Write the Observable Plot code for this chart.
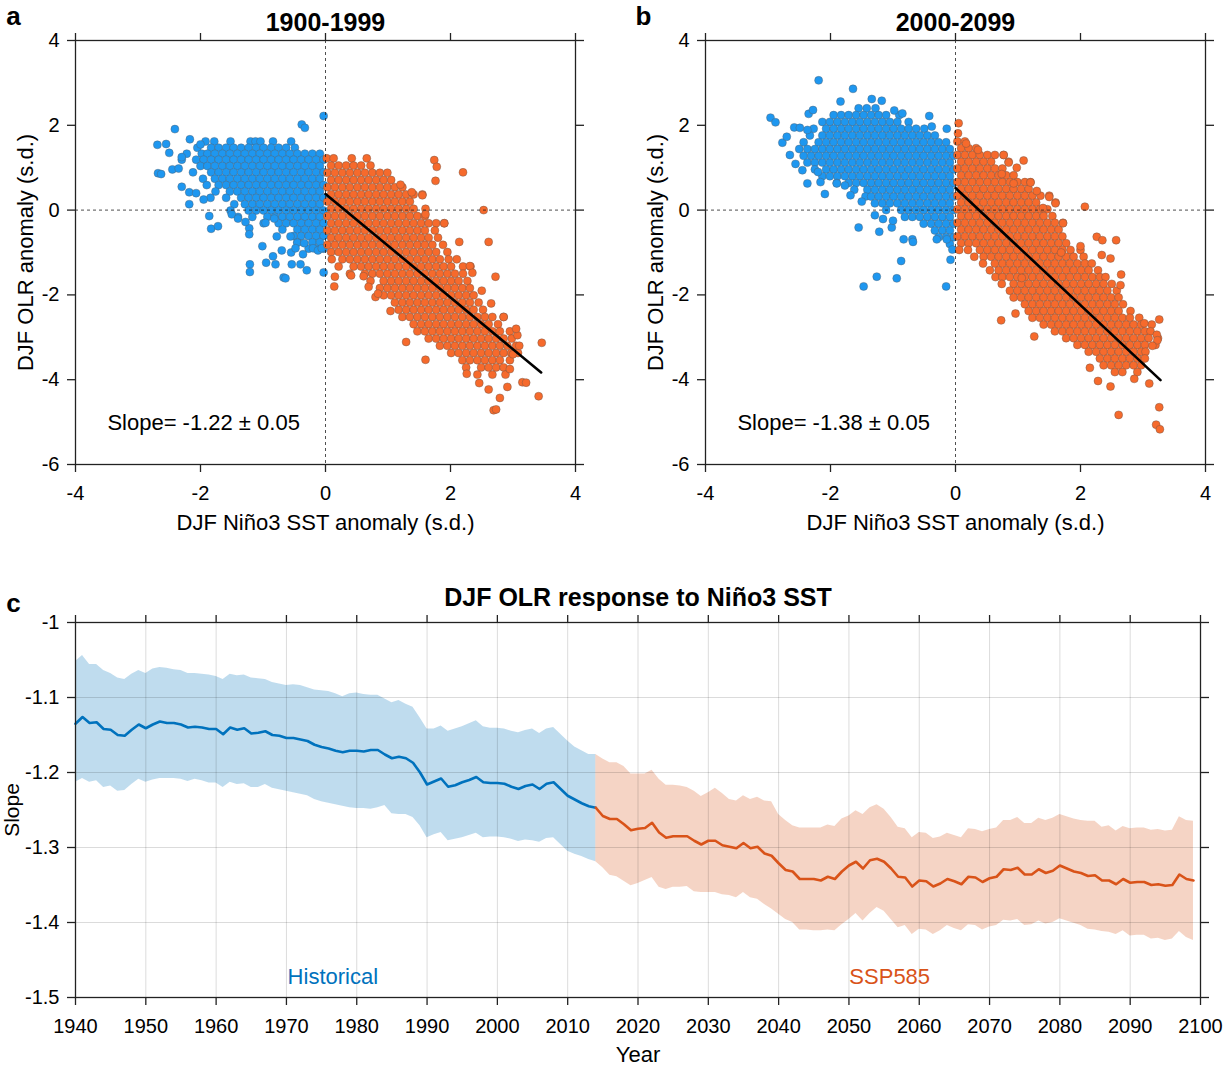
<!DOCTYPE html>
<html>
<head>
<meta charset="utf-8">
<script src="https://cdn.jsdelivr.net/npm/d3@7"></script>
<script src="https://cdn.jsdelivr.net/npm/@observablehq/plot@0.6"></script>
<style>
  html, body { margin: 0; padding: 0; background: #fff; }
  #fig { position: relative; width: 1225px; height: 1066px; overflow: hidden; background: #fff; }
  #fig > div { position: absolute; }
</style>
</head>
<body>
<div id="fig">
  <div id="pa" style="left:0;top:0"></div>
  <div id="pb" style="left:630px;top:0"></div>
  <div id="pc" style="left:0;top:570px"></div>
</div>
<script>
// ---------------- Panel a (1900-1999) : scatter rows [y, [x...]] and outliers [x, y] ----------------
const aBlueRows = [
  [1.62, [-1.92,-1.78,-1.52,-1.2,-1.12,-1.04,-0.84,-0.55]],
  [1.47, [-2.05,-1.83,-1.71,-1.59,-1.47,-1.35,-1.23,-1.11,-0.99,-0.87,-0.75,-0.63,-0.49]],
  [1.33, [-2.22,-1.98,-1.89,-1.77,-1.65,-1.53,-1.41,-1.29,-1.17,-1.05,-0.93,-0.81,-0.69,-0.57,-0.45,-0.33,-0.21,-0.09]],
  [1.19, [-2.3,-2.07,-1.95,-1.83,-1.71,-1.59,-1.47,-1.35,-1.23,-1.11,-0.99,-0.87,-0.75,-0.63,-0.51,-0.39,-0.27,-0.15,-0.03]],
  [1.04, [-2.0,-1.89,-1.77,-1.65,-1.53,-1.41,-1.29,-1.17,-1.05,-0.93,-0.81,-0.69,-0.57,-0.45,-0.33,-0.21,-0.09]],
  [0.89, [-2.12,-1.83,-1.71,-1.59,-1.47,-1.35,-1.23,-1.11,-0.99,-0.87,-0.75,-0.63,-0.51,-0.39,-0.27,-0.15,-0.03]],
  [0.74, [-1.96,-1.77,-1.65,-1.53,-1.41,-1.29,-1.17,-1.05,-0.93,-0.81,-0.69,-0.57,-0.45,-0.33,-0.21,-0.09]],
  [0.59, [-1.9,-1.71,-1.59,-1.47,-1.35,-1.23,-1.11,-0.99,-0.87,-0.75,-0.63,-0.51,-0.39,-0.27,-0.15,-0.03]],
  [0.44, [-1.76,-1.53,-1.41,-1.29,-1.17,-1.05,-0.93,-0.81,-0.69,-0.57,-0.45,-0.33,-0.21,-0.09]],
  [0.29, [-1.84,-1.59,-1.35,-1.23,-1.11,-0.99,-0.87,-0.75,-0.63,-0.51,-0.39,-0.27,-0.15,-0.03]],
  [0.14, [-1.46,-1.29,-1.17,-1.05,-0.93,-0.81,-0.69,-0.57,-0.45,-0.33,-0.21,-0.09]],
  [-0.01, [-1.52,-1.23,-1.11,-0.99,-0.87,-0.75,-0.63,-0.51,-0.39,-0.27,-0.15,-0.03]],
  [-0.16, [-1.4,-1.17,-0.93,-0.81,-0.69,-0.57,-0.45,-0.33,-0.21,-0.09]],
  [-0.31, [-0.99,-0.75,-0.63,-0.51,-0.39,-0.27,-0.15,-0.03]],
  [-0.46, [-0.69,-0.45,-0.33,-0.21,-0.09]],
  [-0.61, [-0.51,-0.39,-0.27,-0.15,-0.03]],
  [-0.76, [-0.45,-0.21,-0.09]],
  [-0.91, [-0.27,-0.15,-0.03]]
];
const aBlueOut = [
  [-0.03,2.22],[-0.38,2.02],[-0.33,1.94],[-2.41,1.91],[-2.69,1.54],[-2.55,1.56],[-2.68,0.87],[-2.63,0.85],
  [-2.17,1.67],[-2.45,0.96],[-2.35,0.98],[-2.18,0.14],[-2.18,0.42],[-2.07,0.4],[-1.86,-0.14],[-1.83,-0.44],
  [-1.72,-0.38],[-1.22,-0.43],[-1.22,-0.57],[-1.01,-0.85],[-0.84,-1.09],[-1.21,-1.28],[-1.21,-1.46],[-0.95,-1.24],
  [-0.8,-1.28],[-0.67,-1.59],[-0.64,-1.61],[-0.54,-1.28],[-0.4,-1.28],[-0.3,-1.42],[-0.36,-1.04],[-0.2,-0.9],
  [-0.12,-0.95],[-0.06,-0.9],[-0.03,-1.47],[-0.78,-0.62],[-0.56,-0.62],[-0.45,-0.77],[-0.34,-0.78],[-1.5,-0.1],
  [-1.4,-0.2],[-1.28,-0.28],[-0.96,-0.3],[-0.82,-0.2],[-2.3,1.25],[-2.5,1.35],[-2.0,1.55],[-2.3,0.55],
  [-1.95,0.25],[-0.7,-0.95],[-0.55,-1.0],[-0.48,-0.9]
];
const aOrangeRows = [
  [1.22, [0.02,0.13,0.42,0.66]],
  [1.05, [0.09,0.21,0.33,0.45,0.57,0.72]],
  [0.88, [0.03,0.15,0.27,0.39,0.51,0.63,0.75,0.87,0.99]],
  [0.71, [0.09,0.21,0.33,0.45,0.57,0.69,0.81,0.93,1.05]],
  [0.54, [0.03,0.15,0.27,0.39,0.51,0.63,0.75,0.87,0.99,1.11,1.23]],
  [0.37, [0.09,0.21,0.33,0.45,0.57,0.69,0.81,0.93,1.05,1.17,1.29,1.41,1.55]],
  [0.2, [0.03,0.15,0.27,0.39,0.51,0.63,0.75,0.87,0.99,1.11,1.23,1.35]],
  [0.03, [0.09,0.21,0.33,0.45,0.57,0.69,0.81,0.93,1.05,1.17,1.29,1.41,1.6]],
  [-0.14, [0.03,0.15,0.27,0.39,0.51,0.63,0.75,0.87,0.99,1.11,1.23,1.35,1.47,1.59]],
  [-0.31, [0.09,0.21,0.33,0.45,0.57,0.69,0.81,0.93,1.05,1.17,1.29,1.41,1.53,1.65,1.77,1.9]],
  [-0.48, [0.03,0.15,0.27,0.39,0.51,0.63,0.75,0.87,0.99,1.11,1.23,1.35,1.47,1.59,1.75]],
  [-0.65, [0.09,0.21,0.33,0.45,0.57,0.69,0.81,0.93,1.05,1.17,1.29,1.41,1.53,1.65,1.8]],
  [-0.82, [0.03,0.15,0.27,0.39,0.51,0.63,0.75,0.87,0.99,1.11,1.23,1.35,1.47,1.59,1.71,1.88]],
  [-0.99, [0.09,0.21,0.33,0.45,0.57,0.69,0.81,0.93,1.05,1.17,1.29,1.41,1.53,1.65,1.77,1.95]],
  [-1.16, [0.1,0.27,0.39,0.51,0.63,0.75,0.87,0.99,1.11,1.23,1.35,1.47,1.59,1.71,1.83,1.97,2.1]],
  [-1.33, [0.21,0.45,0.57,0.69,0.81,0.93,1.05,1.17,1.29,1.41,1.53,1.65,1.77,1.89,2.01,2.2,2.32]],
  [-1.5, [0.39,0.63,0.75,0.87,0.99,1.11,1.23,1.35,1.47,1.59,1.71,1.83,1.95,2.07,2.2]],
  [-1.67, [0.72,0.93,1.05,1.17,1.29,1.41,1.53,1.65,1.77,1.89,2.01,2.13,2.27]],
  [-1.84, [0.87,0.99,1.11,1.23,1.35,1.47,1.59,1.71,1.83,1.95,2.07,2.19,2.31]],
  [-2.01, [0.93,1.05,1.17,1.29,1.41,1.53,1.65,1.77,1.89,2.01,2.13,2.25,2.37]],
  [-2.18, [1.11,1.23,1.35,1.47,1.59,1.71,1.83,1.95,2.07,2.19,2.31,2.45]],
  [-2.35, [1.17,1.29,1.41,1.53,1.65,1.77,1.89,2.01,2.13,2.25,2.37,2.52]],
  [-2.52, [1.23,1.35,1.47,1.59,1.71,1.83,1.95,2.07,2.19,2.31,2.43,2.55,2.67,2.85]],
  [-2.69, [1.41,1.53,1.65,1.77,1.89,2.01,2.13,2.25,2.37,2.49,2.61,2.76]],
  [-2.86, [1.47,1.59,1.71,1.83,1.95,2.07,2.19,2.31,2.43,2.55,2.67,2.79,2.95]],
  [-3.03, [1.65,1.77,1.89,2.01,2.13,2.25,2.37,2.49,2.61,2.73,2.85,2.98]],
  [-3.2, [1.83,1.95,2.07,2.19,2.31,2.43,2.55,2.67,2.79,2.91,3.05]],
  [-3.37, [2.01,2.13,2.25,2.37,2.49,2.61,2.73,2.85,2.97,3.08]],
  [-3.54, [2.19,2.31,2.43,2.55,2.67,2.79,2.95]],
  [-3.71, [2.25,2.49,2.61,2.73,2.85]],
  [-3.88, [2.43,2.67,2.88]]
];
const aOrangeOut = [
  [1.74,1.18],[1.78,1.02],[1.76,0.69],[2.2,0.89],[2.53,0.0],[2.61,-0.75],[2.14,-0.75],[2.72,-1.57],
  [3.46,-3.13],[3.41,-4.39],[2.69,-4.72],[2.73,-4.7],[2.79,-4.43],[2.61,-4.23],[2.46,-4.08],[2.91,-4.17],
  [3.15,-4.06],[3.21,-4.07],[2.26,-3.86],[1.6,-3.53],[1.29,-3.11],[1.04,-2.38],[0.8,-2.05],[3.07,-2.95],
  [2.85,-2.52],[1.9,-0.31],[1.6,-0.1],[0.15,-1.57],[0.14,-1.8],[0.41,-1.54],[0.61,-1.56],[0.69,-1.81],
  [0.84,-1.97],[1.38,0.42],[1.55,0.35],[1.2,0.6],[2.31,-1.32],[2.35,-1.48],[2.5,-1.9],[2.65,-2.2],
  [3.0,-3.4],[3.1,-3.2],[2.95,-3.75],[3.05,-2.8]
];
const aFitX = [0, 3.45];
const aFitY = [0.38, -3.83];

// ---------------- Panel b (2000-2099) ----------------
const bBlueRows = [
  [2.4, [-1.55,-1.42,-1.28]],
  [2.24, [-1.95,-1.83,-1.71,-1.59,-1.47,-1.35,-1.23,-1.11,-0.9]],
  [2.08, [-2.13,-2.01,-1.89,-1.77,-1.65,-1.53,-1.41,-1.29,-1.17,-1.05,-0.93,-0.75]],
  [1.92, [-2.27,-2.07,-1.95,-1.83,-1.71,-1.59,-1.47,-1.35,-1.23,-1.11,-0.99,-0.87,-0.75,-0.63,-0.5]],
  [1.76, [-2.33,-2.13,-2.01,-1.89,-1.77,-1.65,-1.53,-1.41,-1.29,-1.17,-1.05,-0.93,-0.81,-0.69,-0.57,-0.45,-0.33]],
  [1.6, [-2.43,-2.19,-2.07,-1.95,-1.83,-1.71,-1.59,-1.47,-1.35,-1.23,-1.11,-0.99,-0.87,-0.75,-0.63,-0.51,-0.39,-0.27,-0.15]],
  [1.44, [-2.5,-2.37,-2.25,-2.13,-2.01,-1.89,-1.77,-1.65,-1.53,-1.41,-1.29,-1.17,-1.05,-0.93,-0.81,-0.69,-0.57,-0.45,-0.33,-0.21,-0.09]],
  [1.28, [-2.43,-2.31,-2.19,-2.07,-1.95,-1.83,-1.71,-1.59,-1.47,-1.35,-1.23,-1.11,-0.99,-0.87,-0.75,-0.63,-0.51,-0.39,-0.27,-0.15,-0.03]],
  [1.12, [-2.37,-2.25,-2.13,-2.01,-1.89,-1.77,-1.65,-1.53,-1.41,-1.29,-1.17,-1.05,-0.93,-0.81,-0.69,-0.57,-0.45,-0.33,-0.21,-0.09]],
  [0.96, [-2.25,-2.07,-1.95,-1.83,-1.71,-1.59,-1.47,-1.35,-1.23,-1.11,-0.99,-0.87,-0.75,-0.63,-0.51,-0.39,-0.27,-0.15,-0.03]],
  [0.8, [-2.13,-2.01,-1.89,-1.77,-1.65,-1.53,-1.41,-1.29,-1.17,-1.05,-0.93,-0.81,-0.69,-0.57,-0.45,-0.33,-0.21,-0.09]],
  [0.64, [-1.9,-1.71,-1.59,-1.47,-1.35,-1.23,-1.11,-0.99,-0.87,-0.75,-0.63,-0.51,-0.39,-0.27,-0.15,-0.03]],
  [0.48, [-1.62,-1.41,-1.29,-1.17,-1.05,-0.93,-0.81,-0.69,-0.57,-0.45,-0.33,-0.21,-0.09]],
  [0.32, [-1.44,-1.35,-1.23,-1.11,-0.99,-0.87,-0.75,-0.63,-0.51,-0.39,-0.27,-0.15,-0.03]],
  [0.16, [-1.29,-1.17,-1.05,-0.93,-0.81,-0.69,-0.57,-0.45,-0.33,-0.21,-0.09]],
  [0.0, [-1.11,-0.87,-0.75,-0.63,-0.51,-0.39,-0.27,-0.15,-0.03]],
  [-0.16, [-0.81,-0.69,-0.57,-0.45,-0.33,-0.21,-0.09]],
  [-0.32, [-0.51,-0.39,-0.27,-0.15,-0.03]],
  [-0.48, [-0.33,-0.21,-0.09]],
  [-0.64, [-0.27,-0.15,-0.03]],
  [-0.8, [-0.09]]
];
const bBlueOut = [
  [-2.19,3.06],[-1.64,2.86],[-1.84,2.56],[-1.34,2.62],[-1.18,2.58],[-2.96,2.18],[-2.88,2.07],[-2.77,1.59],
  [-2.7,1.73],[-2.56,1.09],[-2.45,0.94],[-2.37,0.63],[-2.16,0.66],[-2.09,0.38],[-1.9,0.63],[-1.77,0.58],
  [-1.68,0.35],[-1.55,-0.41],[-1.29,-0.12],[-1.22,-0.51],[-1.16,-0.21],[-1.02,-0.41],[-0.83,-0.69],[-0.69,-0.69],
  [-0.68,-0.75],[-0.87,-1.2],[-1.26,-1.57],[-0.94,-1.61],[-1.47,-1.8],[-0.15,-1.8],[-0.08,-1.17],[-0.05,-0.93],
  [-0.3,-0.69],[-0.14,-0.69],[-0.42,2.22],[-0.38,1.97],[-0.14,1.92],[-2.58,1.95],[-2.49,1.94],[-2.37,1.89],
  [-2.35,2.27],[-2.28,2.36],[-0.98,2.35],[-0.85,2.28],[-2.65,1.3],[-2.2,0.9],[-1.5,0.2],[-1.0,-0.25]
];
const bOrangeRows = [
  [1.62, [0.03,0.15]],
  [1.46, [0.09,0.21,0.33]],
  [1.3, [0.03,0.15,0.27,0.39,0.51,0.63,0.77]],
  [1.14, [0.09,0.21,0.33,0.45,0.57,0.85]],
  [0.98, [0.03,0.15,0.27,0.39,0.51,0.63,0.75]],
  [0.82, [0.09,0.21,0.33,0.45,0.57,0.69,0.81,0.93]],
  [0.66, [0.03,0.15,0.27,0.39,0.51,0.63,0.75,0.87,0.99,1.11,1.2]],
  [0.5, [0.09,0.21,0.33,0.45,0.57,0.69,0.81,0.93,1.05,1.17]],
  [0.34, [0.03,0.15,0.27,0.39,0.51,0.63,0.75,0.87,0.99,1.11,1.23,1.36,1.5]],
  [0.18, [0.09,0.21,0.33,0.45,0.57,0.69,0.81,0.93,1.05,1.17,1.29,1.6]],
  [0.02, [0.03,0.15,0.27,0.39,0.51,0.63,0.75,0.87,0.99,1.11,1.23,1.35,1.47]],
  [-0.14, [0.09,0.21,0.33,0.45,0.57,0.69,0.81,0.93,1.05,1.17,1.29,1.41,1.55]],
  [-0.3, [0.03,0.15,0.27,0.39,0.51,0.63,0.75,0.87,0.99,1.11,1.23,1.35,1.47,1.59,1.72]],
  [-0.46, [0.09,0.21,0.33,0.45,0.57,0.69,0.81,0.93,1.05,1.17,1.29,1.41,1.53,1.65]],
  [-0.62, [0.03,0.15,0.27,0.39,0.51,0.63,0.75,0.87,0.99,1.11,1.23,1.35,1.47,1.59,1.71]],
  [-0.78, [0.09,0.21,0.33,0.45,0.57,0.69,0.81,0.93,1.05,1.17,1.29,1.41,1.53,1.65,1.77]],
  [-0.94, [0.06,0.2,0.39,0.51,0.63,0.75,0.87,0.99,1.11,1.23,1.35,1.47,1.59,1.71,1.84,2.0]],
  [-1.1, [0.3,0.45,0.57,0.69,0.81,0.93,1.05,1.17,1.29,1.41,1.53,1.65,1.77,1.89,2.05]],
  [-1.26, [0.44,0.63,0.75,0.87,0.99,1.11,1.23,1.35,1.47,1.59,1.71,1.83,1.95,2.07,2.18]],
  [-1.42, [0.55,0.69,0.81,0.93,1.05,1.17,1.29,1.41,1.53,1.65,1.77,1.89,2.01,2.13,2.28]],
  [-1.58, [0.64,0.75,0.87,0.99,1.11,1.23,1.35,1.47,1.59,1.71,1.83,1.95,2.07,2.19,2.31,2.4]],
  [-1.74, [0.74,0.93,1.05,1.17,1.29,1.41,1.53,1.65,1.77,1.89,2.01,2.13,2.25,2.37,2.5]],
  [-1.9, [0.87,0.99,1.11,1.23,1.35,1.47,1.59,1.71,1.83,1.95,2.07,2.19,2.31,2.43,2.58]],
  [-2.06, [0.93,1.05,1.17,1.29,1.41,1.53,1.65,1.77,1.89,2.01,2.13,2.25,2.37,2.49,2.61]],
  [-2.22, [1.11,1.23,1.35,1.47,1.59,1.71,1.83,1.95,2.07,2.19,2.31,2.43,2.55,2.68]],
  [-2.38, [1.17,1.29,1.41,1.53,1.65,1.77,1.89,2.01,2.13,2.25,2.37,2.49,2.61,2.8]],
  [-2.54, [1.23,1.35,1.47,1.59,1.71,1.83,1.95,2.07,2.19,2.31,2.43,2.55,2.67,2.79,2.94]],
  [-2.7, [1.41,1.53,1.65,1.77,1.89,2.01,2.13,2.25,2.37,2.49,2.61,2.73,2.85,2.97,3.14]],
  [-2.86, [1.59,1.71,1.83,1.95,2.07,2.19,2.31,2.43,2.55,2.67,2.79,2.91,3.03,3.12]],
  [-3.02, [1.77,1.89,2.01,2.13,2.25,2.37,2.49,2.61,2.73,2.85,2.97,3.09,3.24]],
  [-3.18, [1.95,2.07,2.19,2.31,2.43,2.55,2.67,2.79,2.91,3.03,3.2]],
  [-3.34, [2.13,2.25,2.37,2.49,2.61,2.73,2.85,2.97,3.04]],
  [-3.5, [2.31,2.43,2.55,2.67,2.79,2.91,3.03]],
  [-3.66, [2.37,2.49,2.61,2.73,2.85,2.97]],
  [-3.82, [2.55,2.67,2.91]]
];
const bOrangeOut = [
  [0.05,2.05],[0.04,1.81],[0.17,1.57],[0.36,1.42],[0.77,1.3],[0.85,1.12],[1.09,1.17],[0.74,0.85],
  [0.93,0.63],[1.2,0.65],[1.5,0.31],[1.6,0.16],[2.07,0.08],[1.72,-0.31],[1.69,-1.0],[2.26,-0.63],
  [2.35,-0.71],[2.57,-0.71],[2.34,-1.06],[2.48,-1.14],[2.65,-1.52],[2.64,-1.77],[0.73,-2.6],[0.96,-2.44],
  [1.26,-2.98],[3.26,-2.58],[3.02,-2.67],[3.22,-2.94],[3.23,-3.07],[3.15,-3.2],[2.15,-3.72],[2.28,-4.03],
  [2.48,-4.16],[2.86,-3.98],[3.1,-4.09],[2.61,-4.83],[3.26,-4.65],[3.21,-5.06],[3.27,-5.17],[1.3,0.45],
  [1.4,0.05],[2.0,-0.85],[0.98,1.0],[1.06,-1.6]
];
const bFitX = [0, 3.28];
const bFitY = [0.52, -4.01];

const scatterXTicks = [-4, -2, 0, 2, 4];
const scatterYTicks = [-6, -4, -2, 0, 2, 4];

// ---------------- Panel c : slope time series ----------------
const histStart = 1940;
const histMean = [
  -1.135,-1.126,-1.134,-1.133,-1.142,-1.143,-1.150,-1.151,-1.143,-1.136,
  -1.141,-1.136,-1.132,-1.134,-1.134,-1.136,-1.140,-1.139,-1.140,-1.142,
  -1.142,-1.149,-1.140,-1.143,-1.141,-1.148,-1.147,-1.145,-1.150,-1.151,
  -1.154,-1.154,-1.156,-1.158,-1.163,-1.166,-1.168,-1.171,-1.173,-1.171,
  -1.171,-1.172,-1.170,-1.170,-1.176,-1.181,-1.179,-1.181,-1.187,-1.200,
  -1.216,-1.212,-1.208,-1.219,-1.217,-1.213,-1.210,-1.206,-1.213,-1.214,
  -1.214,-1.215,-1.219,-1.222,-1.218,-1.216,-1.222,-1.215,-1.213,-1.222,
  -1.231,-1.236,-1.241,-1.245,-1.247
];
const histUpper = [
  -1.052,-1.044,-1.056,-1.056,-1.064,-1.068,-1.074,-1.076,-1.069,-1.064,
  -1.068,-1.062,-1.060,-1.061,-1.063,-1.064,-1.068,-1.068,-1.069,-1.070,
  -1.072,-1.076,-1.069,-1.071,-1.070,-1.074,-1.075,-1.076,-1.080,-1.082,
  -1.084,-1.083,-1.084,-1.087,-1.090,-1.091,-1.092,-1.095,-1.099,-1.095,
  -1.094,-1.096,-1.097,-1.097,-1.102,-1.107,-1.104,-1.109,-1.113,-1.127,
  -1.142,-1.142,-1.138,-1.145,-1.142,-1.139,-1.135,-1.131,-1.139,-1.141,
  -1.141,-1.142,-1.145,-1.147,-1.144,-1.142,-1.148,-1.142,-1.140,-1.149,
  -1.158,-1.166,-1.171,-1.176,-1.176
];
const histLower = [
  -1.213,-1.208,-1.213,-1.211,-1.220,-1.218,-1.225,-1.224,-1.216,-1.209,
  -1.213,-1.210,-1.208,-1.208,-1.208,-1.209,-1.212,-1.209,-1.211,-1.214,
  -1.214,-1.220,-1.213,-1.216,-1.215,-1.220,-1.220,-1.216,-1.221,-1.223,
  -1.225,-1.227,-1.229,-1.231,-1.236,-1.239,-1.241,-1.243,-1.245,-1.247,
  -1.248,-1.248,-1.249,-1.247,-1.244,-1.255,-1.256,-1.256,-1.260,-1.271,
  -1.287,-1.283,-1.280,-1.291,-1.289,-1.287,-1.284,-1.281,-1.287,-1.286,
  -1.286,-1.287,-1.289,-1.292,-1.290,-1.291,-1.293,-1.288,-1.287,-1.296,
  -1.305,-1.309,-1.312,-1.316,-1.319
];
const sspStart = 2014;
const sspMean = [
  -1.247,-1.258,-1.262,-1.262,-1.269,-1.277,
  -1.275,-1.274,-1.267,-1.280,-1.287,-1.285,-1.285,-1.285,-1.291,-1.296,
  -1.291,-1.291,-1.297,-1.299,-1.301,-1.294,-1.301,-1.299,-1.308,-1.311,
  -1.321,-1.330,-1.332,-1.342,-1.342,-1.342,-1.344,-1.339,-1.342,-1.332,
  -1.324,-1.319,-1.328,-1.317,-1.315,-1.319,-1.328,-1.339,-1.340,-1.352,
  -1.344,-1.345,-1.352,-1.348,-1.342,-1.345,-1.349,-1.339,-1.340,-1.346,
  -1.341,-1.339,-1.329,-1.330,-1.327,-1.336,-1.336,-1.329,-1.334,-1.331,
  -1.324,-1.328,-1.332,-1.334,-1.338,-1.337,-1.344,-1.344,-1.349,-1.342,
  -1.347,-1.346,-1.346,-1.350,-1.349,-1.351,-1.350,-1.336,-1.342,-1.344
];
const sspUpper = [
  -1.176,-1.182,-1.187,-1.187,-1.192,-1.202,
  -1.202,-1.202,-1.197,-1.209,-1.217,-1.217,-1.218,-1.220,-1.225,-1.232,
  -1.227,-1.221,-1.228,-1.236,-1.238,-1.231,-1.236,-1.233,-1.238,-1.239,
  -1.256,-1.264,-1.271,-1.274,-1.274,-1.274,-1.274,-1.270,-1.272,-1.262,
  -1.258,-1.251,-1.256,-1.247,-1.243,-1.249,-1.260,-1.273,-1.275,-1.287,
  -1.280,-1.281,-1.288,-1.286,-1.281,-1.284,-1.287,-1.275,-1.276,-1.279,
  -1.276,-1.274,-1.264,-1.264,-1.260,-1.268,-1.268,-1.261,-1.264,-1.261,
  -1.256,-1.259,-1.262,-1.264,-1.265,-1.265,-1.273,-1.271,-1.278,-1.272,
  -1.275,-1.274,-1.274,-1.277,-1.276,-1.278,-1.277,-1.259,-1.264,-1.265
];
const sspLower = [
  -1.319,-1.327,-1.337,-1.339,-1.345,-1.351,
  -1.348,-1.344,-1.340,-1.353,-1.356,-1.353,-1.353,-1.352,-1.359,-1.360,
  -1.360,-1.360,-1.363,-1.364,-1.367,-1.360,-1.367,-1.369,-1.376,-1.382,
  -1.389,-1.396,-1.400,-1.410,-1.410,-1.411,-1.411,-1.410,-1.411,-1.403,
  -1.396,-1.388,-1.398,-1.388,-1.380,-1.385,-1.396,-1.407,-1.404,-1.416,
  -1.409,-1.410,-1.416,-1.411,-1.404,-1.408,-1.411,-1.403,-1.404,-1.410,
  -1.406,-1.404,-1.397,-1.398,-1.396,-1.404,-1.403,-1.398,-1.402,-1.400,
  -1.395,-1.398,-1.401,-1.404,-1.409,-1.410,-1.412,-1.413,-1.416,-1.411,
  -1.418,-1.417,-1.417,-1.422,-1.421,-1.424,-1.422,-1.412,-1.420,-1.424
];
const yearTicks = [1940,1950,1960,1970,1980,1990,2000,2010,2020,2030,2040,2050,2060,2070,2080,2090,2100];
const slopeTicks = [-1.5,-1.4,-1.3,-1.2,-1.1,-1];

// ---------------- styles ----------------
const FONT = "'Liberation Sans', Arial, Helvetica, sans-serif";
const BLUE_DOT = "#1e97f0";
const ORANGE_DOT = "#f66a2c";
const HIST = "#0072BD";
const SSP = "#D95319";

function rowsToPoints(rows, outs) {
  const pts = [];
  rows.forEach(([y, xs]) => xs.forEach(x => pts.push({x, y})));
  outs.forEach(([x, y]) => pts.push({x, y}));
  return pts;
}

function scatterPanel({blueRows, blueOut, orangeRows, orangeOut, fitX, fitY, title, letter, slope, width, marginRight}) {
  const blue = rowsToPoints(blueRows, blueOut);
  const orange = rowsToPoints(orangeRows, orangeOut);
  const fit = fitX.map((x, i) => ({x, y: fitY[i]}));
  return Plot.plot({
    width, height: 545,
    marginLeft: 75, marginRight, marginTop: 40, marginBottom: 81,
    x: {domain: [-4, 4]},
    y: {domain: [-6, 4]},
    style: {fontFamily: FONT, fontSize: "20px", color: "#000", background: "transparent", overflow: "visible"},
    marks: [
      Plot.dot(blue, {x: "x", y: "y", r: 4, fill: BLUE_DOT, stroke: "#55606c", strokeWidth: 0.5, strokeOpacity: 0.85}),
      Plot.dot(orange, {x: "x", y: "y", r: 4, fill: ORANGE_DOT, stroke: "#6a564a", strokeWidth: 0.5, strokeOpacity: 0.85}),
      Plot.ruleX([0], {stroke: "#222", strokeWidth: 0.8, strokeDasharray: "3,3"}),
      Plot.ruleY([0], {stroke: "#222", strokeWidth: 0.8, strokeDasharray: "3,3"}),
      Plot.line(fit, {x: "x", y: "y", stroke: "#000", strokeWidth: 2.6}),
      Plot.text([slope], {x: -3.49, y: -5.03, textAnchor: "start", lineAnchor: "middle", fontSize: 22}),
      Plot.frame({stroke: "#222", strokeWidth: 1.3}),
      Plot.axisX({anchor: "bottom", ticks: scatterXTicks, tickSize: 8, tickPadding: 13, tickFormat: d => String(d), label: null, stroke: "#222", strokeWidth: 1.3}),
      Plot.axisX({anchor: "top", ticks: scatterXTicks, tickSize: 8, tickFormat: () => "", label: null, stroke: "#222", strokeWidth: 1.3}),
      Plot.axisY({anchor: "left", ticks: scatterYTicks, tickSize: 8, tickPadding: 8, tickFormat: d => String(d), label: null, stroke: "#222", strokeWidth: 1.3}),
      Plot.axisY({anchor: "right", ticks: scatterYTicks, tickSize: 8, tickFormat: () => "", label: null, stroke: "#222", strokeWidth: 1.3}),
      Plot.text(["DJF Niño3 SST anomaly (s.d.)"], {frameAnchor: "bottom", dy: 58, lineAnchor: "middle", fontSize: 22}),
      Plot.text(["DJF OLR anomaly (s.d.)"], {frameAnchor: "left", dx: -50, rotate: -90, textAnchor: "middle", lineAnchor: "middle", fontSize: 22}),
      Plot.text([title], {frameAnchor: "top", dy: -18, lineAnchor: "middle", fontSize: 25, fontWeight: "bold"}),
      Plot.text([letter], {frameAnchor: "top-left", dx: -62, dy: -24, textAnchor: "middle", lineAnchor: "middle", fontSize: 26, fontWeight: "bold"})
    ]
  });
}

document.getElementById("pa").appendChild(scatterPanel({
  blueRows: aBlueRows, blueOut: aBlueOut, orangeRows: aOrangeRows, orangeOut: aOrangeOut,
  fitX: aFitX, fitY: aFitY, title: "1900-1999", letter: "a", slope: "Slope= -1.22 ± 0.05",
  width: 612, marginRight: 37
}));
document.getElementById("pb").appendChild(scatterPanel({
  blueRows: bBlueRows, blueOut: bBlueOut, orangeRows: bOrangeRows, orangeOut: bOrangeOut,
  fitX: bFitX, fitY: bFitY, title: "2000-2099", letter: "b", slope: "Slope= -1.38 ± 0.05",
  width: 595, marginRight: 20
}));

// ---------------- Panel c ----------------
const hist = histMean.map((m, i) => ({year: histStart + i, mean: m, hi: histUpper[i], lo: histLower[i]}));
const ssp = sspMean.map((m, i) => ({year: sspStart + i, mean: m, hi: sspUpper[i], lo: sspLower[i]}));

const pc = Plot.plot({
  width: 1225, height: 496,
  marginLeft: 75, marginRight: 25, marginTop: 52, marginBottom: 69,
  x: {domain: [1940, 2100]},
  y: {domain: [-1.5, -1]},
  style: {fontFamily: FONT, fontSize: "20px", color: "#000", background: "transparent", overflow: "visible"},
  marks: [
    Plot.areaY(hist, {x: "year", y1: "lo", y2: "hi", fill: HIST, fillOpacity: 0.25}),
    Plot.areaY(ssp, {x: "year", y1: "lo", y2: "hi", fill: SSP, fillOpacity: 0.25}),
    Plot.gridX({ticks: yearTicks, stroke: "#000", strokeOpacity: 0.14, strokeWidth: 1}),
    Plot.gridY({ticks: slopeTicks, stroke: "#000", strokeOpacity: 0.14, strokeWidth: 1}),
    Plot.lineY(hist, {x: "year", y: "mean", stroke: HIST, strokeWidth: 2.6}),
    Plot.lineY(ssp, {x: "year", y: "mean", stroke: SSP, strokeWidth: 2.6}),
    Plot.text(["Historical"], {x: 1976.6, y: -1.4724, fill: HIST, fontSize: 22, lineAnchor: "middle"}),
    Plot.text(["SSP585"], {x: 2055.8, y: -1.4724, fill: SSP, fontSize: 22, lineAnchor: "middle"}),
    Plot.frame({stroke: "#222", strokeWidth: 1.3}),
    Plot.axisX({anchor: "bottom", ticks: yearTicks, tickSize: 8, tickPadding: 13, tickFormat: d => String(d), label: null, stroke: "#222", strokeWidth: 1.3}),
    Plot.axisX({anchor: "top", ticks: yearTicks, tickSize: 8, tickFormat: () => "", label: null, stroke: "#222", strokeWidth: 1.3}),
    Plot.axisY({anchor: "left", ticks: slopeTicks, tickSize: 8, tickPadding: 8, tickFormat: d => String(d), label: null, stroke: "#222", strokeWidth: 1.3}),
    Plot.axisY({anchor: "right", ticks: slopeTicks, tickSize: 8, tickFormat: () => "", label: null, stroke: "#222", strokeWidth: 1.3}),
    Plot.text(["Year"], {frameAnchor: "bottom", dy: 57, lineAnchor: "middle", fontSize: 22}),
    Plot.text(["Slope"], {frameAnchor: "left", dx: -63, rotate: -90, textAnchor: "middle", lineAnchor: "middle", fontSize: 21}),
    Plot.text(["DJF OLR response to Niño3 SST"], {frameAnchor: "top", dy: -25, lineAnchor: "middle", fontSize: 25, fontWeight: "bold"}),
    Plot.text(["c"], {frameAnchor: "top-left", dx: -62, dy: -19, textAnchor: "middle", lineAnchor: "middle", fontSize: 26, fontWeight: "bold"})
  ]
});
document.getElementById("pc").appendChild(pc);
</script>
</body>
</html>
